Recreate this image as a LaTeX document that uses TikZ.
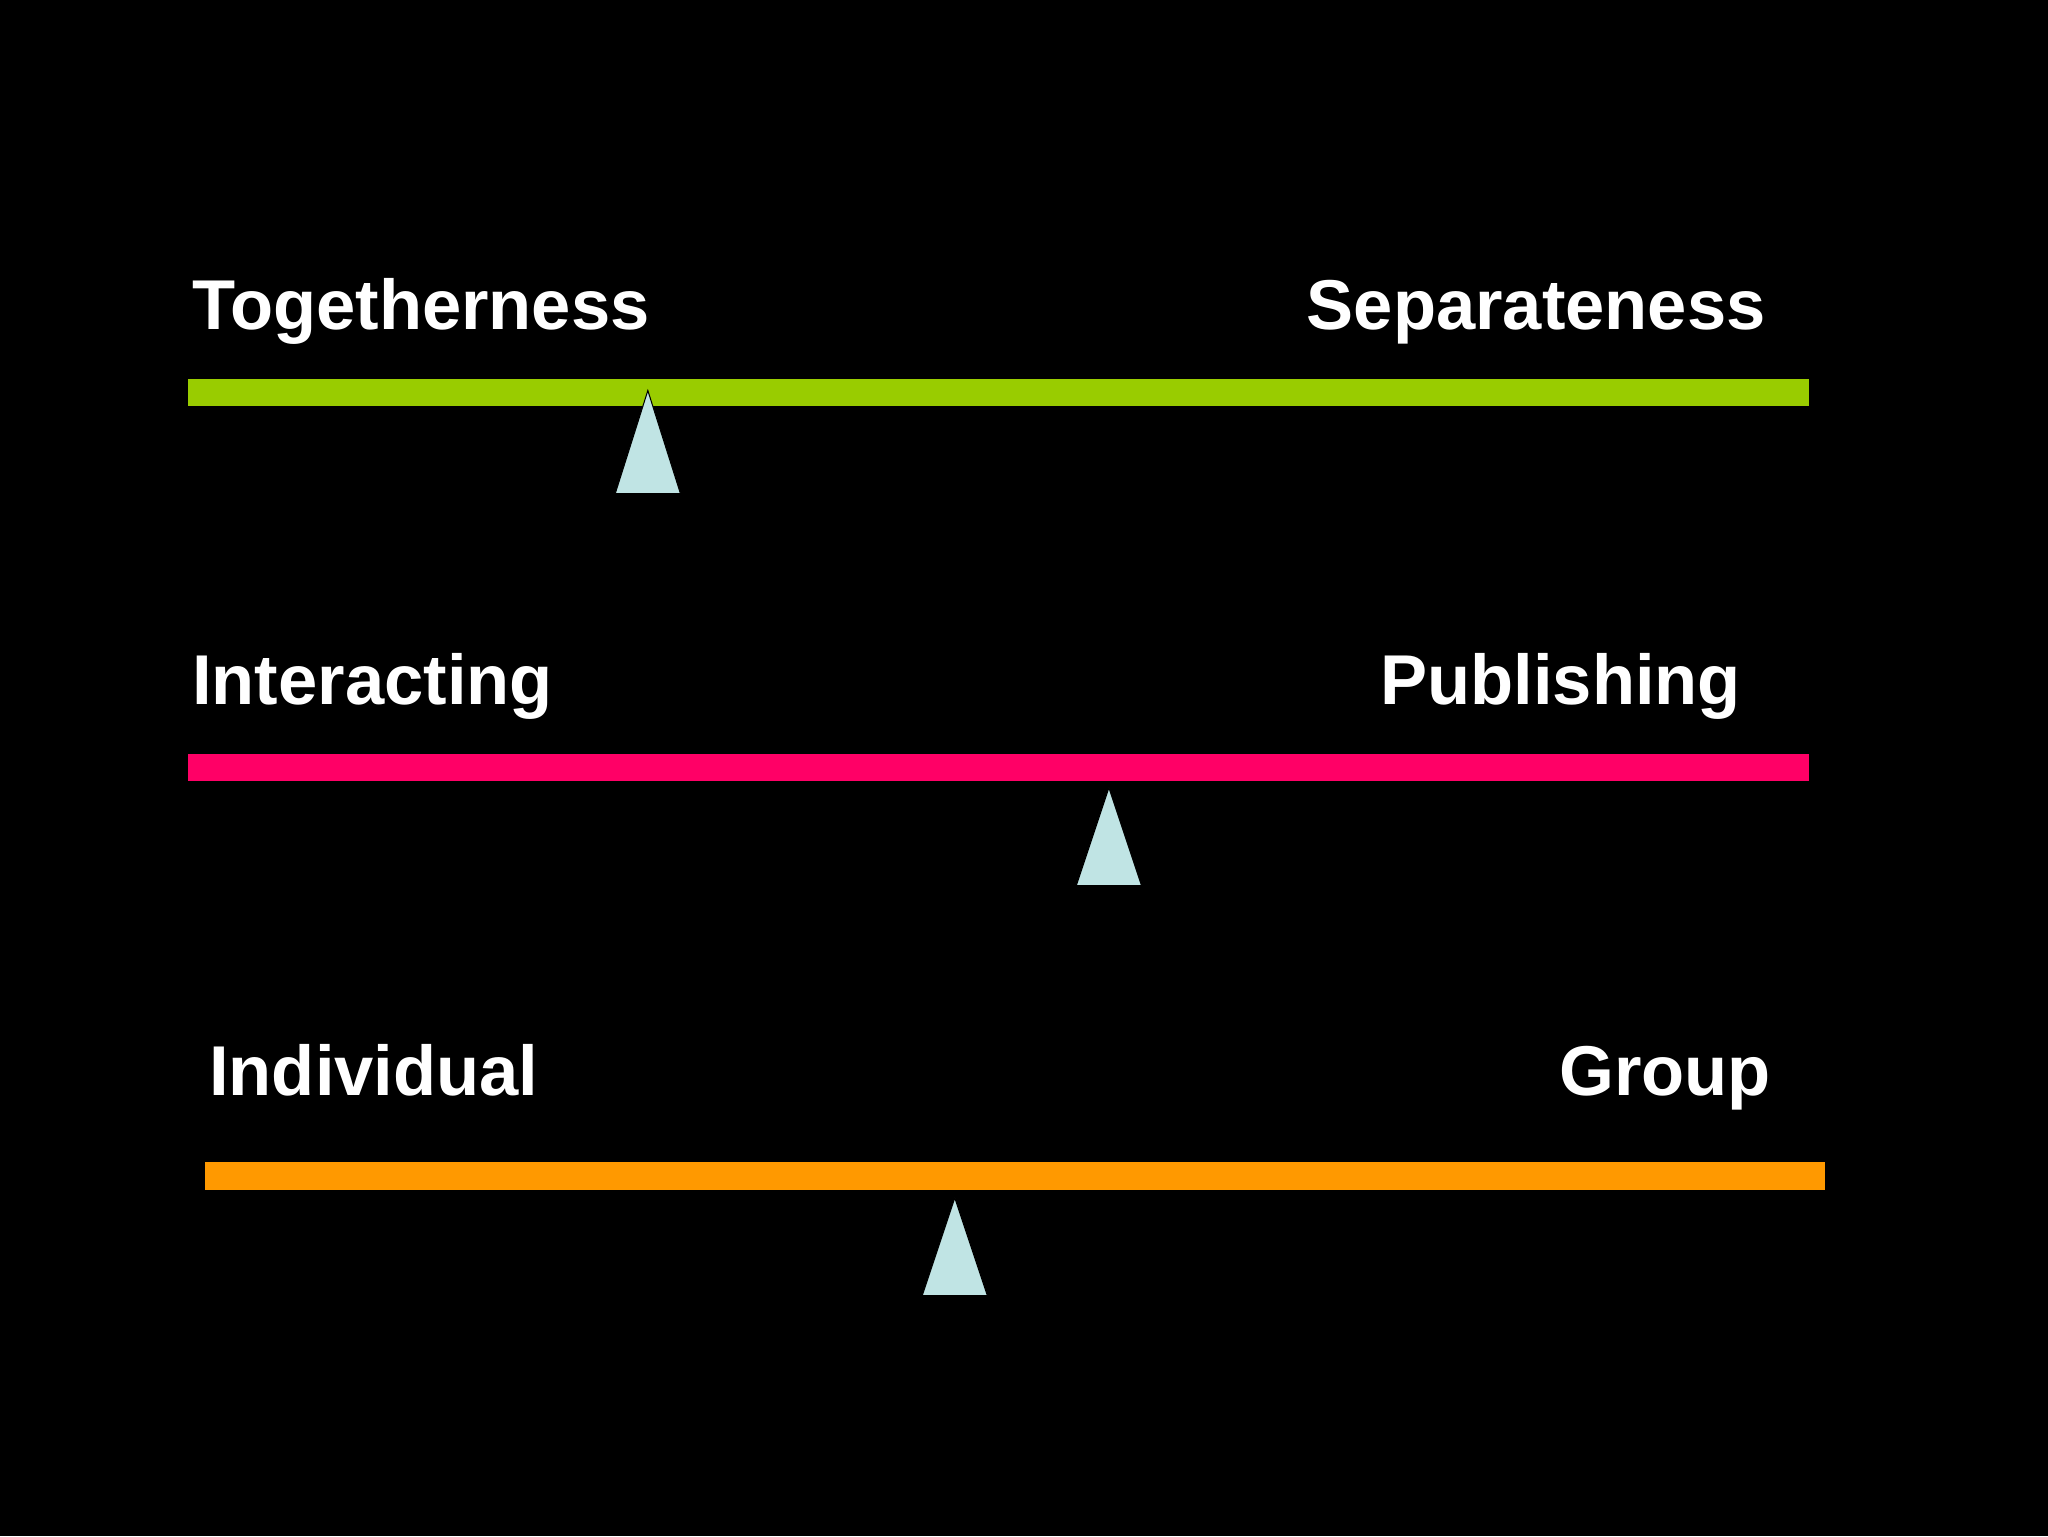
\documentclass[tikz,border=0pt]{standalone}
\usepackage{fontspec}
\setmainfont{Liberation Sans}
\begin{document}
\begin{tikzpicture}[x=1pt,y=-1pt,
  lbl/.style={text=white,font=\fontsize{54}{60}\selectfont\bfseries,inner sep=0pt},
  tri/.style={fill={rgb,255:red,192;green,228;blue,228},draw=black,line width=0.8pt}]
\fill[black] (0,0) rectangle (1568,1176);
\useasboundingbox (0,0) rectangle (1568,1176);
\definecolor{g}{HTML}{99CC00}\definecolor{p}{HTML}{FF0066}\definecolor{o}{HTML}{FF9900}
\fill[g] (144,290) rectangle (1385,311);
\fill[p] (144,577) rectangle (1385,598);
\fill[o] (157,890) rectangle (1397,911);
\draw[tri] (496,299) -- (521,378) -- (471,378) -- cycle;
\draw[tri] (849,603) -- (874,678) -- (824,678) -- cycle;
\draw[tri] (731,917) -- (756,992) -- (706,992) -- cycle;
\node[lbl,anchor=base west] (t1) at (147,252) {Togetherness};
\node[lbl,anchor=base east] (t2) at (1352,252) {Separateness};
\node[lbl,anchor=base west] (t3) at (147,539) {Interacting};
\node[lbl,anchor=base east] (t4) at (1333,539) {Publishing};
\node[lbl,anchor=base west] (t5) at (160,839) {Individual};
\node[lbl,anchor=base east] (t6) at (1356,839) {Group};
\end{tikzpicture}
\end{document}
